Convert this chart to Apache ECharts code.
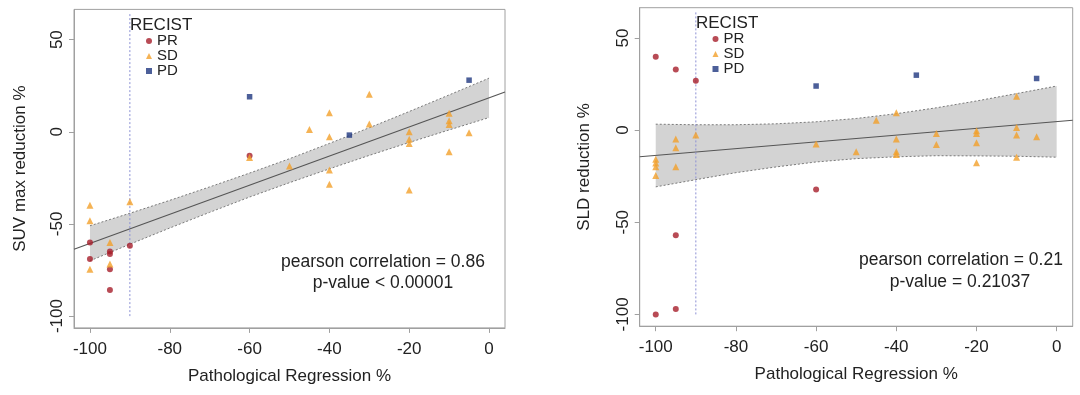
<!DOCTYPE html>
<html>
<head>
<meta charset="utf-8">
<script src="https://cdn.jsdelivr.net/npm/echarts@6/dist/echarts.min.js"></script>
<style>
  html, body { margin: 0; padding: 0; background: #fff; }
  #chart { width: 1080px; height: 395px; }
</style>
</head>
<body>
<div id="chart"></div>
<script>
// ---------- data ----------
var xTicks = [-100, -80, -60, -40, -20, 0];
var yTicks = [-100, -50, 0, 50];
var categories = ['PR', 'SD', 'PD'];

// Left panel: SUV max reduction % vs Pathological Regression %
var suvPR = [[-100, -60], [-100, -69], [-95, -65], [-95, -66.3], [-95, -74.6], [-95, -85.8], [-90, -61.8], [-60, -13]];
var suvSD = [[-100, -39.8], [-100, -48.3], [-100, -74.6], [-95, -60], [-95, -71.7], [-90, -38], [-60, -14],
             [-50, -18.6], [-45, 1.3], [-40, 10.3], [-40, -2.7], [-40, -20.8], [-40, -28.5],
             [-30, 20.3], [-30, 4.2], [-20, 0], [-20, -4.1], [-20, -6.3], [-20, -31.6],
             [-10, 10], [-10, 6], [-10, 4], [-10, -10.8], [-5, -0.5]];
var suvPD = [[-60, 19], [-35, -1.8], [-5, 28]];
var suvFitX = [-104, 4];
var suvFitY = [-63.7, 21.6];
var suvBandX = [-100, -90, -80, -70, -60, -50, -40, -30, -20, -10, 0];
var suvBandLow = [-70.0, -61.0, -52.2, -43.7, -35.4, -27.6, -20.1, -12.8, -5.8, 1.0, 7.7];
var suvBandUp  = [-51.0, -44.2, -37.2, -29.9, -22.4, -14.6, -6.3, 2.2, 11.0, 20.0, 29.1];

// Right panel: SLD reduction % vs Pathological Regression %
var sldPR = [[-100, 39.8], [-95, 32.9], [-90, 26.7], [-60, -32.2], [-95, -57.1], [-95, -97.1], [-100, -100]];
var sldSD = [[-100, -15.8], [-100, -17.8], [-100, -19.9], [-100, -24.6], [-95, -4.9], [-95, -9.6], [-95, -19.9],
             [-90, -2.7], [-60, -7.6], [-50, -11.8], [-45, 5.4], [-40, 9.4], [-40, -4.9], [-40, -11.8], [-40, -13.2],
             [-30, -1.8], [-30, -7.8], [-20, -0.4], [-20, -1.8], [-20, -6.9], [-20, -17.7],
             [-10, 18.4], [-10, 1.4], [-10, -2.7], [-10, -14.8], [-5, -3.6]];
var sldPD = [[-60, 23.9], [-35, 29.8], [-5, 28]];
var sldFitX = [-104, 4];
var sldFitY = [-14.5, 5.3];
var sldBandX = [-100, -90, -80, -70, -60, -50, -40, -30, -20, -10, 0];
var sldBandLow = [-30.8, -26.9, -23.1, -20.0, -17.3, -15.5, -14.5, -13.9, -14.0, -14.2, -14.7];
var sldBandUp  = [3.2, 2.9, 2.9, 3.4, 4.5, 6.3, 8.9, 12.1, 15.8, 19.8, 23.9];

var recistX = [-90, -90];
var recistY = [-100, 64];

// ---------- styles ----------
var FONT = '"Liberation Sans", Arial, sans-serif';
var colPR = '#a61e2a', colSD = '#f2a02a', colPD = '#1f377f';
var boxCol = '#a0a0a0', txtCol = '#222222';

function zip(xs, ys) { return xs.map(function (x, i) { return [x, ys[i]]; }); }

function axesFor(idx, yName, yGap) {
  return {
    x: {
      type: 'value', gridIndex: idx, min: -104, max: 4,
      name: 'Pathological Regression %', nameLocation: 'middle', nameGap: 40,
      nameTextStyle: { fontFamily: FONT, fontSize: 17, color: txtCol },
      axisLine: { show: true, onZero: false, lineStyle: { color: boxCol } },
      axisTick: { show: true, customValues: xTicks, length: 5, lineStyle: { color: boxCol } },
      axisLabel: { customValues: xTicks, fontFamily: FONT, fontSize: 17, color: txtCol, margin: 13 },
      splitLine: { show: false }
    },
    y: {
      type: 'value', gridIndex: idx, min: -106.4, max: 66.4,
      name: yName, nameLocation: 'middle', nameGap: yGap,
      nameTextStyle: { fontFamily: FONT, fontSize: 17, color: txtCol },
      axisLine: { show: true, onZero: false, lineStyle: { color: boxCol } },
      axisTick: { show: true, customValues: yTicks, length: 5, lineStyle: { color: boxCol } },
      axisLabel: { customValues: yTicks, rotate: 90, fontFamily: FONT, fontSize: 17, color: txtCol, margin: 8 },
      splitLine: { show: false }
    }
  };
}

function panelSeries(idx, PR, SD, PD, fitX, fitY, bX, bLow, bUp) {
  return [
    {
      type: 'custom', xAxisIndex: idx, yAxisIndex: idx, z: 1, silent: true,
      data: [[bX[0], bLow[0]]],
      renderItem: function (params, api) {
        var up = bX.map(function (x, i) { return api.coord([x, bUp[i]]); });
        var lo = bX.map(function (x, i) { return api.coord([x, bLow[i]]); }).reverse();
        return { type: 'polygon', shape: { points: up.concat(lo) }, style: { fill: '#d3d3d3' } };
      }
    },
    { type: 'line', xAxisIndex: idx, yAxisIndex: idx, z: 2, symbol: 'none', silent: true,
      data: zip(bX, bUp), lineStyle: { color: '#7a7a7a', width: 1, type: [2, 2] } },
    { type: 'line', xAxisIndex: idx, yAxisIndex: idx, z: 2, symbol: 'none', silent: true,
      data: zip(bX, bLow), lineStyle: { color: '#7a7a7a', width: 1, type: [2, 2] } },
    { type: 'line', xAxisIndex: idx, yAxisIndex: idx, z: 3, symbol: 'none', silent: true,
      data: zip(fitX, fitY), lineStyle: { color: '#555', width: 1.1 } },
    { type: 'line', xAxisIndex: idx, yAxisIndex: idx, z: 3, symbol: 'none', silent: true,
      data: zip(recistX, recistY), lineStyle: { color: '#8c90d4', width: 1, type: [2, 2] } },
    { name: 'PR', type: 'scatter', xAxisIndex: idx, yAxisIndex: idx, z: 5, symbol: 'circle', symbolSize: 6,
      itemStyle: { color: colPR }, data: PR },
    { name: 'SD', type: 'scatter', xAxisIndex: idx, yAxisIndex: idx, z: 5, symbol: 'triangle', symbolSize: 7,
      itemStyle: { color: colSD }, data: SD },
    { name: 'PD', type: 'scatter', xAxisIndex: idx, yAxisIndex: idx, z: 5, symbol: 'rect', symbolSize: 5.5,
      itemStyle: { color: colPD }, data: PD }
  ];
}

function legendFor(left, top) {
  return {
    orient: 'vertical', left: left, top: top, itemGap: 0, itemWidth: 6, itemHeight: 6, padding: 0,
    selectedMode: false,
    textStyle: { fontFamily: FONT, fontSize: 15, color: txtCol, lineHeight: 15, padding: [0, 0, 0, 0] },
    data: [
      { name: categories[0], icon: 'circle', itemStyle: { color: colPR } },
      { name: categories[1], icon: 'triangle', itemStyle: { color: colSD } },
      { name: categories[2], icon: 'rect', itemStyle: { color: colPD } }
    ]
  };
}

function label(x, y, text, size) {
  return { type: 'text', x: x, y: y, z: 100,
    style: { text: text, fontFamily: FONT, fontSize: size, fill: txtCol, align: 'center', verticalAlign: 'middle' } };
}
function labelLeft(x, y, text, size) {
  return { type: 'text', x: x, y: y, z: 100,
    style: { text: text, fontFamily: FONT, fontSize: size, fill: txtCol, align: 'left', verticalAlign: 'middle' } };
}

var a0 = axesFor(0, 'SUV max reduction %', 45);
var a1 = axesFor(1, 'SLD reduction %', 47);

var option = {
  backgroundColor: '#ffffff',
  animation: false,
  grid: [
    { left: 74, top: 9.4, width: 431, height: 318.5, show: true, borderColor: boxCol, borderWidth: 1, outerBoundsMode: 'none' },
    { left: 639.7, top: 7.7, width: 433, height: 318.5, show: true, borderColor: boxCol, borderWidth: 1, outerBoundsMode: 'none' }
  ],
  xAxis: [a0.x, a1.x],
  yAxis: [a0.y, a1.y],
  legend: [legendFor(146, 33.5), legendFor(712.5, 31.5)],
  graphic: [
    labelLeft(130, 25, 'RECIST', 17),
    labelLeft(696, 23.5, 'RECIST', 17),
    label(383, 262, 'pearson correlation = 0.86', 17.5),
    label(383, 283.5, 'p-value < 0.00001', 17.5),
    label(961, 260, 'pearson correlation = 0.21', 17.5),
    label(960, 282.5, 'p-value = 0.21037', 17.5)
  ],
  series: panelSeries(0, suvPR, suvSD, suvPD, suvFitX, suvFitY, suvBandX, suvBandLow, suvBandUp)
    .concat(panelSeries(1, sldPR, sldSD, sldPD, sldFitX, sldFitY, sldBandX, sldBandLow, sldBandUp))
};

var chart = echarts.init(document.getElementById('chart'), null, { renderer: 'canvas' });
chart.setOption(option);
</script>
</body>
</html>
